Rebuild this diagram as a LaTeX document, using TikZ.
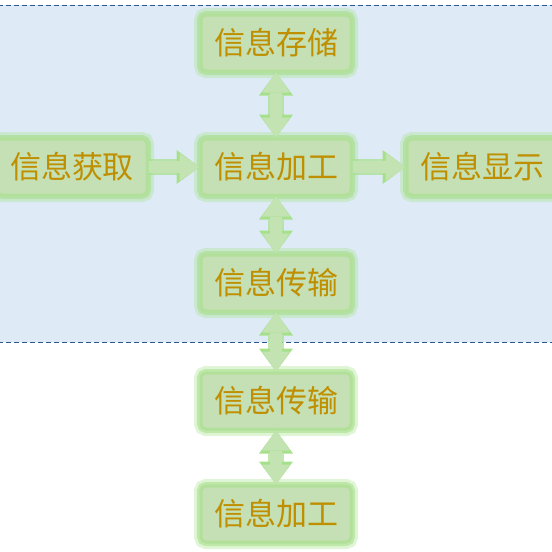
\documentclass[tikz,border=0pt]{standalone}
\usepackage{fontspec}
\setmainfont{Noto Sans CJK SC}
\usetikzlibrary{arrows.meta}
\definecolor{bandblue}{HTML}{DEEBF7}
\definecolor{bandline}{HTML}{2F5597}
\definecolor{boxfill}{HTML}{C5E0B4}
\definecolor{boxglow}{HTML}{A6E08A}
\definecolor{arrowfill}{HTML}{C3E4B2}
\definecolor{textgold}{HTML}{BF8F00}

\begin{document}
\begin{tikzpicture}[x=1pt,y={(0pt,-1pt)},
 infobox/.style={fill=boxfill,draw=boxglow!60!boxfill,line width=3pt,rounded corners=5pt,
  minimum width=150pt,minimum height=56pt,inner sep=0pt,text=textgold,
  font=\fontsize{31}{36}\selectfont,
  preaction={draw=boxglow,draw opacity=0.35,line width=14pt},
  preaction={draw=boxglow,draw opacity=0.6,line width=8pt}},
 flow/.style={line width=12pt,draw=arrowfill,
  -{Triangle[length=20pt,width=28pt,line width=0pt]},
  preaction={draw=boxglow,draw opacity=0.7,line width=16pt,
   -{Triangle[length=23pt,width=34pt,line width=0pt]}}},
 both/.style={line width=12pt,draw=arrowfill,
  {Triangle[length=20pt,width=28pt,line width=0pt]}-{Triangle[length=20pt,width=28pt,line width=0pt]},
  preaction={draw=boxglow,draw opacity=0.7,line width=16pt,
   {Triangle[length=23pt,width=34pt,line width=0pt]}-{Triangle[length=23pt,width=34pt,line width=0pt]}}}]
\useasboundingbox (0,0) rectangle (552,552);
% shaded band
\fill[bandblue] (-2,5) rectangle (554,342);
\draw[bandline,line width=1pt,dash pattern=on 5pt off 3pt] (-2,5) -- (554,5) (-2,342) -- (554,342);
% boxes
\node[infobox] (store) at (276,43) {信息存储};
\node[infobox] (get) at (72,167) {信息获取};
\node[infobox] (proc) at (276,167) {信息加工};
\node[infobox] (show) at (482,167) {信息显示};
\node[infobox] (sendA) at (276,283) {信息传输};
\node[infobox] (sendB) at (276,401) {信息传输};
\node[infobox] (procB) at (276,514) {信息加工};
% connectors
\draw[flow] (get) -- (proc);
\draw[flow] (proc) -- (show);
\draw[both] (store) -- (proc);
\draw[both] (proc) -- (sendA);
\draw[both] (sendA) -- (sendB);
\draw[both] (sendB) -- (procB);
\end{tikzpicture}
\end{document}
